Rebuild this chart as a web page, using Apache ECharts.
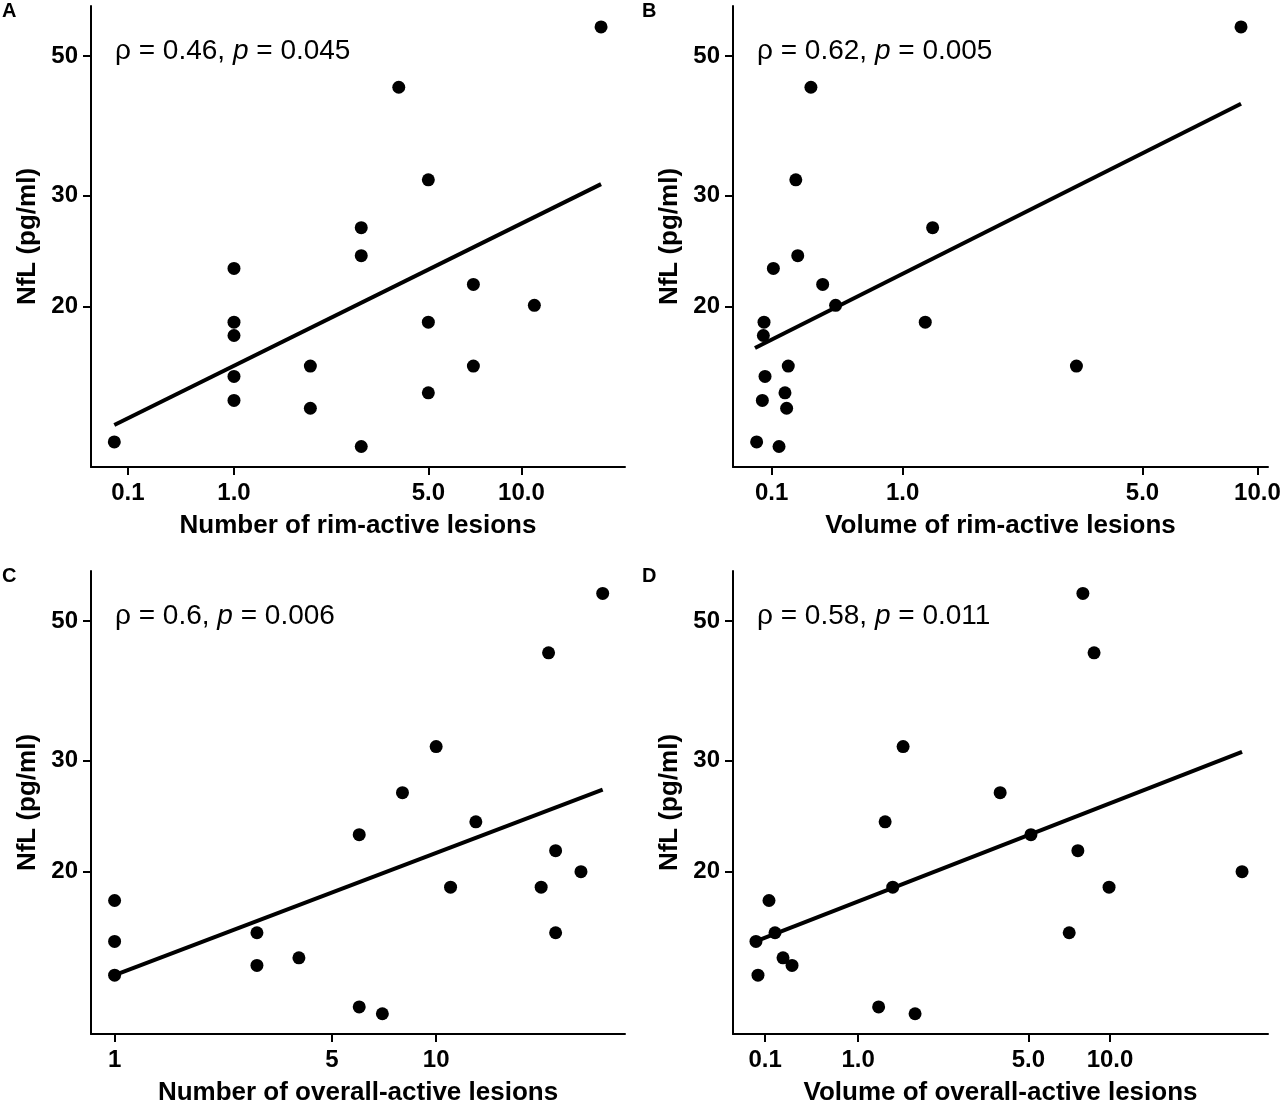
<!DOCTYPE html>
<html>
<head>
<meta charset="utf-8">
<script src="https://cdn.jsdelivr.net/npm/echarts@6/dist/echarts.min.js"></script>
<style>
html,body{margin:0;padding:0;background:#fff;}
#chart{width:1280px;height:1101px;}
</style>
</head>
<body>
<div id="chart"></div>
<script>
// ---------- data ----------
const aX = [18, 4, 5, 3, 3, 1, 7, 11, 1, 5, 1, 2, 7, 1, 5, 1, 2, 0, 3];
const aY = [55.6, 44.6, 31.8, 26.7, 24.1, 23.0, 21.7, 20.1, 18.9, 18.9, 18.0, 16.1, 16.1, 15.5, 14.6, 14.2, 13.8, 12.2, 12.0];
const bX = [9.06, 0.34, 0.246, 1.27, 0.258, 0.11, 0.415, 0.50, 0.054, 1.20, 0.05, 0.20, 3.33, 0.06, 0.18, 0.044, 0.19, 0.01, 0.144];
const bY = [55.6, 44.6, 31.8, 26.7, 24.1, 23.0, 21.7, 20.1, 18.9, 18.9, 18.0, 16.1, 16.1, 15.5, 14.6, 14.2, 13.8, 12.2, 12.0];
const cX = [30, 21, 10, 8, 13, 6, 22, 26, 1, 11, 20, 3, 22, 1, 4, 1, 3, 6, 7];
const cY = [55.3, 44.5, 31.6, 26.7, 24.0, 22.9, 21.6, 20.0, 18.0, 18.9, 18.9, 16.0, 16.0, 15.5, 14.6, 13.7, 14.2, 12.2, 11.9];
const dX = [7.95, 8.74, 1.62, 3.92, 1.35, 5.11, 7.62, 30.4, 0.133, 1.46, 9.92, 0.184, 7.08, 0.023, 0.253, 0.040, 0.332, 1.26, 1.82];
const dY = [55.3, 44.5, 31.6, 26.7, 24.0, 22.9, 21.6, 20.0, 18.0, 18.9, 18.9, 16.0, 16.0, 15.5, 14.6, 13.7, 14.2, 12.2, 11.9];

// fitted-line end points
const lineAX = [0, 18],    lineAY = [12.98, 31.3];
const lineBX = [0, 9.06],  lineBY = [17.2, 42.0];
const lineCX = [1, 30],    lineCY = [13.7, 27.0];
const lineDX = [0.02, 30.4], lineDY = [15.5, 31.0];

// tick values / labels
const xTicksFrac = [0.1, 1, 5, 10];
const xLabelsFrac = ['0.1', '1.0', '5.0', '10.0'];
const xTicksInt = [1, 5, 10];
const xLabelsInt = ['1', '5', '10'];
const yTicks = [20, 30, 50];
const yLabels = ['20', '30', '50'];

const xTitles = ['Number of rim-active lesions', 'Volume of rim-active lesions',
                 'Number of overall-active lesions', 'Volume of overall-active lesions'];
const yTitle = 'NfL (pg/ml)';
const panelLetters = ['A', 'B', 'C', 'D'];
const rhoText = ['0.46', '0.62', '0.6', '0.58'];
const pText = ['0.045', '0.005', '0.006', '0.011'];

// ---------- scales (asinh x, log10 y) ----------
const tx = v => Math.asinh(v);
const ty = v => Math.log10(v);

const FONT = 'Liberation Sans, Arial, Helvetica, sans-serif';

// layout
const grids = [
  {left: 91, top: 6, width: 534, height: 461, outerBoundsMode: 'none', containLabel: false},
  {left: 733, top: 6, width: 535, height: 461, outerBoundsMode: 'none', containLabel: false},
  {left: 91, top: 571, width: 534, height: 463, outerBoundsMode: 'none', containLabel: false},
  {left: 733, top: 571, width: 535, height: 463, outerBoundsMode: 'none', containLabel: false}
];
const xRange = [[-0.1716, 3.7606], [-0.1311, 3.0610], [0.7260, 4.2415], [-0.1699, 4.3259]];
const yRange = [[1.0466, 1.7783], [1.0466, 1.7783], [1.0434, 1.7783], [1.0434, 1.7783]];

const panels = [
  {x: aX, y: aY, lx: lineAX, ly: lineAY, ticks: xTicksFrac, labels: xLabelsFrac},
  {x: bX, y: bY, lx: lineBX, ly: lineBY, ticks: xTicksFrac, labels: xLabelsFrac},
  {x: cX, y: cY, lx: lineCX, ly: lineCY, ticks: xTicksInt, labels: xLabelsInt},
  {x: dX, y: dY, lx: lineDX, ly: lineDY, ticks: xTicksFrac, labels: xLabelsFrac}
];

function labelFor(ticks, labels, tf) {
  return function (v) {
    for (let i = 0; i < ticks.length; i++) {
      if (Math.abs(tf(ticks[i]) - v) < 1e-6) return labels[i];
    }
    return '';
  };
}

const axisCommon = {
  axisLine: {show: true, onZero: false, lineStyle: {color: '#000', width: 2}},
  axisTick: {show: true, inside: false, length: 8, lineStyle: {color: '#000', width: 2}},
  splitLine: {show: false}
};

const xAxes = [], yAxes = [], series = [], titles = [];
panels.forEach((p, i) => {
  xAxes.push(Object.assign({}, axisCommon, {
    type: 'value', gridIndex: i, min: xRange[i][0], max: xRange[i][1],
    name: xTitles[i], nameLocation: 'middle', nameGap: 46,
    nameTextStyle: {fontFamily: FONT, fontWeight: 'bold', fontSize: 26, color: '#000'},
    axisTick: Object.assign({}, axisCommon.axisTick, {customValues: p.ticks.map(tx)}),
    axisLabel: {customValues: p.ticks.map(tx), formatter: labelFor(p.ticks, p.labels, tx),
      fontFamily: FONT, fontWeight: 'bold', fontSize: 24, color: '#000', margin: 14}
  }));
  yAxes.push(Object.assign({}, axisCommon, {
    type: 'value', gridIndex: i, min: yRange[i][0], max: yRange[i][1],
    name: yTitle, nameLocation: 'middle', nameGap: 50,
    nameTextStyle: {fontFamily: FONT, fontWeight: 'bold', fontSize: 26, color: '#000'},
    axisTick: Object.assign({}, axisCommon.axisTick, {customValues: yTicks.map(ty)}),
    axisLabel: {customValues: yTicks.map(ty), formatter: labelFor(yTicks, yLabels, ty),
      fontFamily: FONT, fontWeight: 'bold', fontSize: 24, color: '#000', margin: 13}
  }));
  series.push({
    type: 'scatter', xAxisIndex: i, yAxisIndex: i, symbol: 'circle', symbolSize: 13,
    itemStyle: {color: '#000', opacity: 1}, silent: true,
    data: p.x.map((v, k) => [tx(v), ty(p.y[k])])
  });
  series.push({
    type: 'line', xAxisIndex: i, yAxisIndex: i, showSymbol: false, silent: true,
    lineStyle: {color: '#000', width: 4}, z: 3,
    data: p.lx.map((v, k) => [tx(v), ty(p.ly[k])])
  });
  const g = grids[i];
  titles.push({
    text: panelLetters[i], left: i % 2 === 0 ? 2 : 642, top: g.top - 5, padding: 0,
    textStyle: {fontFamily: FONT, fontWeight: 'bold', fontSize: 20, color: '#000'}
  });
  titles.push({
    text: '{r|ρ = ' + rhoText[i] + ', }{i|p}{r| = ' + pText[i] + '}',
    left: g.left + 24, top: g.top + 31, padding: 0,
    textStyle: {
      fontWeight: 'normal',
      rich: {
        r: {fontFamily: FONT, fontSize: 28, fontWeight: 'normal', color: '#000'},
        i: {fontFamily: FONT, fontSize: 28, fontWeight: 'normal', fontStyle: 'italic', color: '#000'}
      }
    }
  });
});

const chart = echarts.init(document.getElementById('chart'), null, {renderer: 'canvas'});
chart.setOption({
  backgroundColor: '#fff',
  animation: false,
  title: titles,
  grid: grids,
  xAxis: xAxes,
  yAxis: yAxes,
  series: series
});
</script>
</body>
</html>
